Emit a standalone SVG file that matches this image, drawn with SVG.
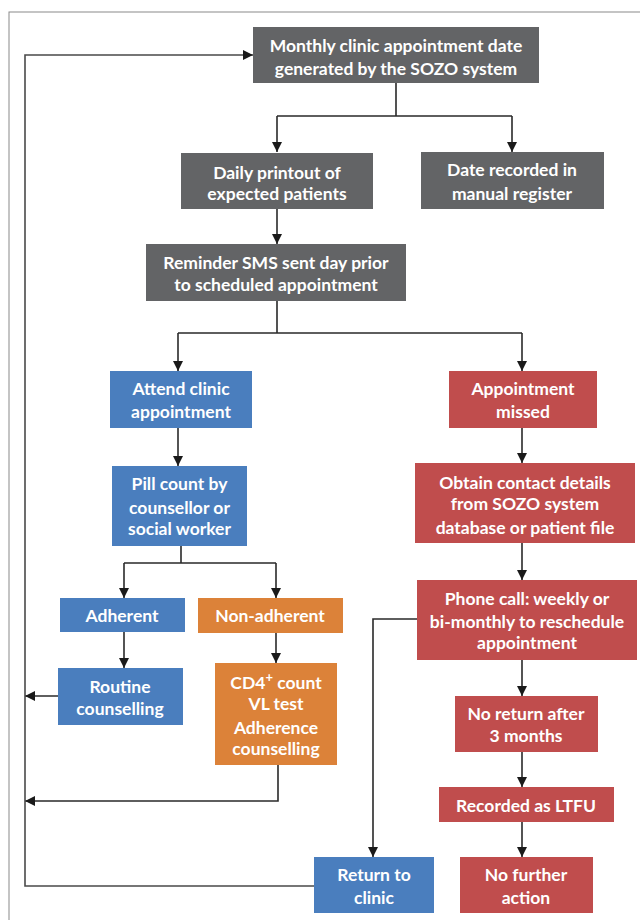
<svg xmlns="http://www.w3.org/2000/svg" width="640" height="920" viewBox="0 0 640 920">
<defs>
<style>
.g{fill:#636466}.b{fill:#4a7ebe}.r{fill:#c04d4d}.o{fill:#dc8239}
text{font-family:Lato,"Liberation Sans",sans-serif;font-weight:bold;font-size:17.5px;fill:#fff;text-anchor:middle}
.c path{fill:none;stroke:#2a2a2a;stroke-width:1.6}
</style>
<marker id="a" markerUnits="userSpaceOnUse" markerWidth="11" markerHeight="11" refX="10" refY="5" orient="auto">
<path d="M0,0 L10,5 L0,10 z" fill="#1a1a1a"/>
</marker>
</defs>
<rect width="640" height="920" fill="#fff"/>
<rect x="9" y="12" width="700" height="1000" fill="none" stroke="#8a8a8a" stroke-width="1"/>
<g class="c">
<path d="M396 83 V116 M277 116 H512"/>
<path d="M277 116 V152" marker-end="url(#a)"/>
<path d="M512 116 V152" marker-end="url(#a)"/>
<path d="M277 209 V244" marker-end="url(#a)"/>
<path d="M277 301 V333 M178 333 H522"/>
<path d="M178 333 V371" marker-end="url(#a)"/>
<path d="M522 333 V371" marker-end="url(#a)"/>
<path d="M178 428 V466" marker-end="url(#a)"/>
<path d="M522 428 V463" marker-end="url(#a)"/>
<path d="M522 543 V580" marker-end="url(#a)"/>
<path d="M181 546 V563 M124 563 H276"/>
<path d="M124 563 V598" marker-end="url(#a)"/>
<path d="M276 563 V598" marker-end="url(#a)"/>
<path d="M124 632 V668" marker-end="url(#a)"/>
<path d="M276 633 V663" marker-end="url(#a)"/>
<path d="M58 696 H25" marker-end="url(#a)"/>
<path d="M278 765 V801 H25" marker-end="url(#a)"/>
<path d="M417 619 H373 V857" marker-end="url(#a)"/>
<path d="M522 660 V696" marker-end="url(#a)"/>
<path d="M522 752 V787" marker-end="url(#a)"/>
<path d="M522 822 V857" marker-end="url(#a)"/>
<path d="M314 886 H25 V55 H253" marker-end="url(#a)" style="stroke:#4a4a4a"/>
</g>
<g id="n1"><rect class="g" x="253" y="27" width="286" height="56"/><text x="396" y="51.5">Monthly clinic appointment date</text><text x="396" y="75">generated by the SOZO system</text></g>
<g id="n2"><rect class="g" x="181" y="153" width="192" height="56"/><text x="277" y="179">Daily printout of</text><text x="277" y="200">expected patients</text></g>
<g id="n3"><rect class="g" x="421" y="152" width="183" height="57"/><text x="512" y="176">Date recorded in</text><text x="512" y="200">manual register</text></g>
<g id="n4"><rect class="g" x="146" y="244" width="260" height="57"/><text x="276" y="269">Reminder SMS sent day prior</text><text x="276" y="291">to scheduled appointment</text></g>
<g id="n5"><rect class="b" x="110" y="371" width="142" height="57"/><text x="181" y="395">Attend clinic</text><text x="181" y="418">appointment</text></g>
<g id="n6"><rect class="r" x="449" y="371" width="148" height="57"/><text x="523" y="395">Appointment</text><text x="523" y="418">missed</text></g>
<g id="n7"><rect class="b" x="112" y="466" width="135" height="80"/><text x="179.5" y="490">Pill count by</text><text x="179.5" y="514">counsellor or</text><text x="179.5" y="535">social worker</text></g>
<g id="n8"><rect class="r" x="415" y="463" width="220" height="80"/><text x="525" y="489">Obtain contact details</text><text x="525" y="510">from SOZO system</text><text x="525" y="534">database or patient file</text></g>
<g id="n9"><rect class="b" x="60" y="598" width="125" height="34"/><text x="122" y="622">Adherent</text></g>
<g id="n10"><rect class="o" x="198" y="598" width="145" height="35"/><text x="270" y="622">Non-adherent</text></g>
<g id="n11"><rect class="r" x="417" y="580" width="220" height="80"/><text x="527" y="605">Phone call: weekly or</text><text x="527" y="628">bi-monthly to reschedule</text><text x="527" y="649">appointment</text></g>
<g id="n12"><rect class="b" x="58" y="668" width="125" height="57"/><text x="120" y="693">Routine</text><text x="120" y="715">counselling</text></g>
<g id="n13"><rect class="o" x="215" y="663" width="122" height="102"/><text x="276" y="689">CD4<tspan font-size="13" dy="-7">+</tspan><tspan dy="7"> count</tspan></text><text x="276" y="710">VL test</text><text x="276" y="734">Adherence</text><text x="276" y="755">counselling</text></g>
<g id="n14"><rect class="r" x="455" y="696" width="143" height="56"/><text x="526" y="720">No return after</text><text x="526" y="742">3 months</text></g>
<g id="n15"><rect class="r" x="439" y="787" width="175" height="35"/><text x="526" y="812">Recorded as LTFU</text></g>
<g id="n16"><rect class="b" x="314" y="857" width="120" height="56"/><text x="374" y="881">Return to</text><text x="374" y="904">clinic</text></g>
<g id="n17"><rect class="r" x="460" y="857" width="133" height="56"/><text x="526" y="881">No further</text><text x="526" y="904">action</text></g>
</svg>
